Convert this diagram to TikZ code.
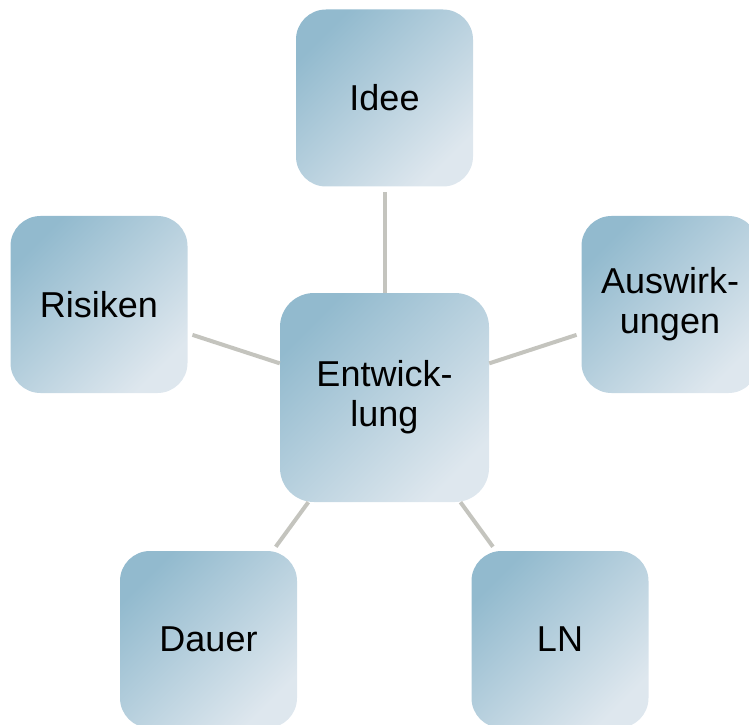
\documentclass[tikz,border=0pt]{standalone}
\usepackage{fontspec}
\setmainfont{Liberation Sans}
\definecolor{boxdark}{RGB}{146,186,206}
\definecolor{boxlight}{RGB}{222,231,238}
\definecolor{conncol}{RGB}{196,196,190}
\begin{document}
\begin{tikzpicture}[x=1pt,y=1pt,
  box/.style={rounded corners=30pt, inner sep=0pt, minimum width=177pt, minimum height=177pt,
    shading=axis, top color=boxdark, bottom color=boxlight, shading angle=45,
    align=center, font=\fontsize{36}{40}\selectfont},
  bigbox/.style={box, minimum width=209pt, minimum height=209pt, rounded corners=34pt},
  conn/.style={draw=conncol, line width=4pt, shorten >=5pt}]
\clip (0,0) rectangle (749,724);
\node[bigbox] (e) at (384.5,326.5) {Entwick-\\lung};
\node[box] (i) at (384.5,626) {Idee};
\node[box] (r) at (99,419.5) {Risiken};
\node[box] (a) at (670,419.5) {Auswirk-\\ungen};
\node[box] (d) at (208.5,84.5) {Dauer};
\node[box] (l) at (560,84.5) {LN};
\draw[conn] (e) -- (i);
\draw[conn] (e) -- (r);
\draw[conn] (e) -- (a);
\draw[conn] (e) -- (d);
\draw[conn] (e) -- (l);
\end{tikzpicture}
\end{document}
